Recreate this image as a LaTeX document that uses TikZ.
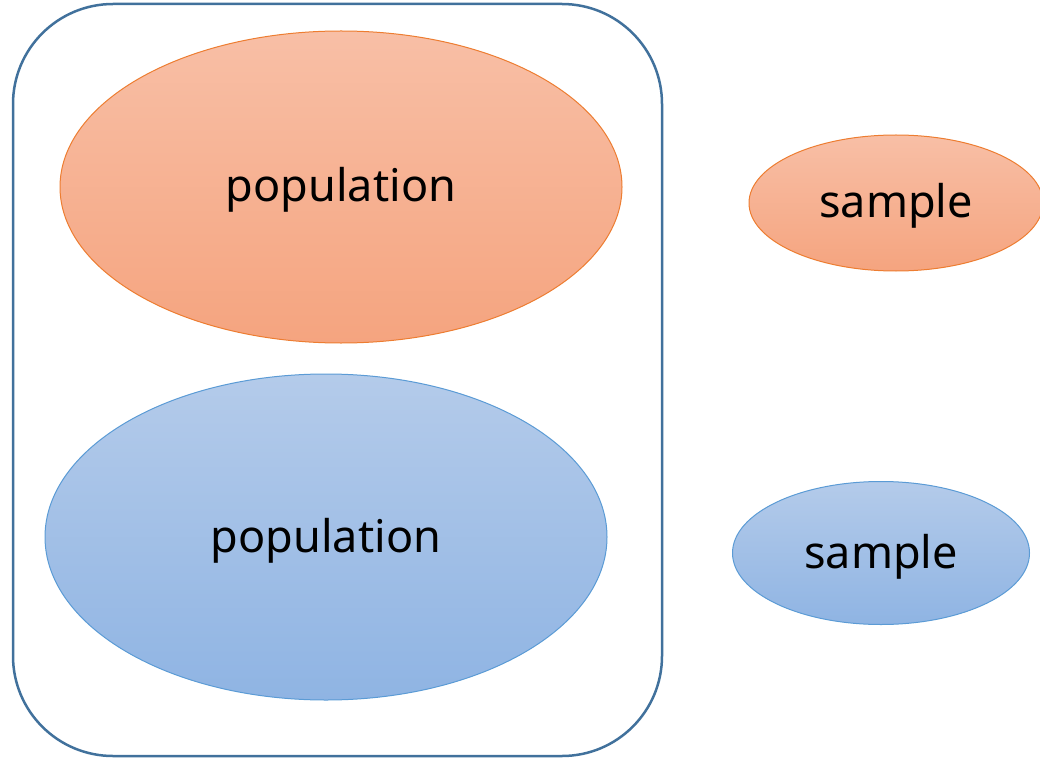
\documentclass[tikz,border=0pt]{standalone}
\usepackage{fontspec}
\setmainfont{Noto Sans}
\usepackage{tikz}
\usetikzlibrary{shapes,positioning,calc}

\definecolor{frameblue}{HTML}{41719C}
\definecolor{orangeline}{HTML}{ED7D31}
\definecolor{orangetop}{HTML}{F8BFA6}
\definecolor{orangebot}{HTML}{F5A47F}
\definecolor{blueline}{HTML}{5B9BD5}
\definecolor{bluetop}{HTML}{B4CBEA}
\definecolor{bluebot}{HTML}{8FB4E3}

\tikzset{
  orangeset/.style={ellipse, draw=orangeline, line width=1pt, top color=orangetop, bottom color=orangebot, inner sep=0pt, text height=40pt, text depth=10pt, font=\fontsize{45}{52}\selectfont},
  blueset/.style={ellipse, draw=blueline, line width=1pt, top color=bluetop, bottom color=bluebot, inner sep=0pt, text height=40pt, text depth=10pt, font=\fontsize{45}{52}\selectfont}
}

\begin{document}
\begin{tikzpicture}[x=1pt, y=-1pt]
    \useasboundingbox (0,0) rectangle (1040,759);

    % Frame round both populations
    \draw [frameblue, line width=2.5pt, rounded corners=100pt] (13,4) rectangle (662,756);
    \coordinate (frame) at (337,380);

    % Populations
    \node [orangeset, minimum width=562pt, minimum height=312pt] (pop1) at (341,187) {population};
    \node [blueset, minimum width=562pt, minimum height=326pt] (pop2) at (326,537) {population};

    % Samples
    \node [orangeset, minimum width=294pt, minimum height=136pt] (samp1) at (896,203) {sample};
    \node [blueset, minimum width=297pt, minimum height=143pt] (samp2) at (881,553) {sample};
\end{tikzpicture}
\end{document}
